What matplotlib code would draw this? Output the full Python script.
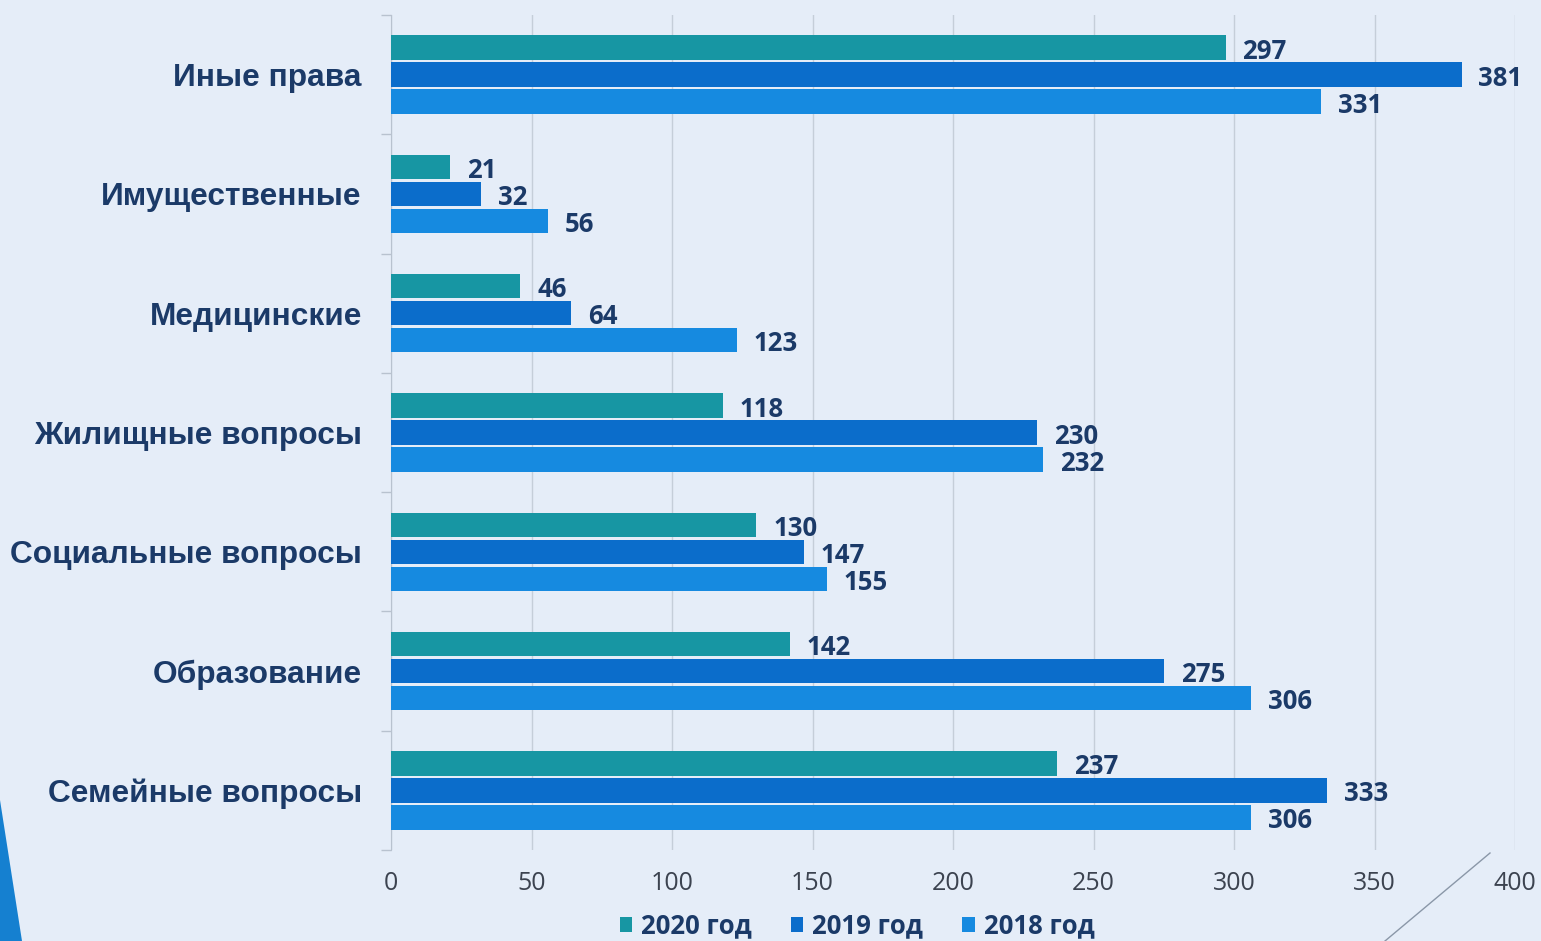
import matplotlib
matplotlib.use("Agg")
import matplotlib.pyplot as plt
import numpy as np
from matplotlib.patches import Polygon
from matplotlib.lines import Line2D

categories = ["Иные права", "Имущественные", "Медицинские", "Жилищные вопросы",
              "Социальные вопросы", "Образование", "Семейные вопросы"]
series_names = ["2020 год", "2019 год", "2018 год"]
v2020 = [297, 21, 46, 118, 130, 142, 237]
v2019 = [381, 32, 64, 230, 147, 275, 333]
v2018 = [331, 56, 123, 232, 155, 306, 306]
xticks = [0, 50, 100, 150, 200, 250, 300, 350, 400]

colors = ["#1796a3", "#0b6dcb", "#168ae0"]
bg = "#e5edf8"
navy = "#1b3a68"

fig = plt.figure(figsize=(15.41, 9.41), dpi=100, facecolor=bg)
ax = fig.add_axes([391/1541, (941-850)/941, (1515-391)/1541, (850-15)/941])
ax.set_facecolor(bg)

n = len(categories)
y = np.arange(n)
pitch = 0.226
h = 0.205
for i, (vals, c, name) in enumerate(zip([v2020, v2019, v2018], colors, series_names)):
    pos = y + (i - 1) * pitch
    ax.barh(pos, vals, height=h, color=c, label=name, zorder=3)
    for p, v in zip(pos, vals):
        ax.text(v + 6, p + 0.03, str(v), va="center", ha="left", fontsize=18.5,
                fontweight="bold", color=navy, family="Open Sans", zorder=4)

ax.set_xlim(0, 400)
ax.set_ylim(n - 0.5, -0.5)
ax.set_xticks(xticks)
ax.set_xticklabels([str(t) for t in xticks], fontsize=18, color="#3c4350", family="Open Sans")
ax.tick_params(axis="x", length=0, pad=15)
ax.set_yticks(y)
ax.set_yticklabels(categories, fontsize=22.8, fontweight="bold", color=navy, family="Liberation Sans")
ax.tick_params(axis="y", length=0, pad=21)
ax.set_yticks(np.arange(n + 1) - 0.5, minor=True)
ax.tick_params(axis="y", which="minor", length=7, color="#b8c2cf", width=1)
ax.grid(axis="x", color="#c5ced9", linewidth=1, zorder=0)
for s in ["top", "right", "bottom"]:
    ax.spines[s].set_visible(False)
ax.spines["left"].set_color("#b8c2cf")

leg = fig.legend(loc="center", bbox_to_anchor=(857/1541, 1 - 926/941), ncol=3, frameon=False,
                 handlelength=0.5, handleheight=0.5, handletextpad=0.35, columnspacing=1.5,
                 prop={"family": "Open Sans", "weight": "bold", "size": 18.5})
for t in leg.get_texts():
    t.set_color(navy)

# decorative elements
fig.patches.append(Polygon([[0, 1 - 800/941], [0.0, 0], [22/1541, 0]], closed=True,
                           transform=fig.transFigure, facecolor="#1580d0", edgecolor="none"))
fig.lines.append(Line2D([1385/1541, 1490/1541], [0, 1 - 853/941], transform=fig.transFigure,
                        color="#8a97a8", linewidth=1))

fig.savefig("out.png", dpi=100, facecolor=bg)
